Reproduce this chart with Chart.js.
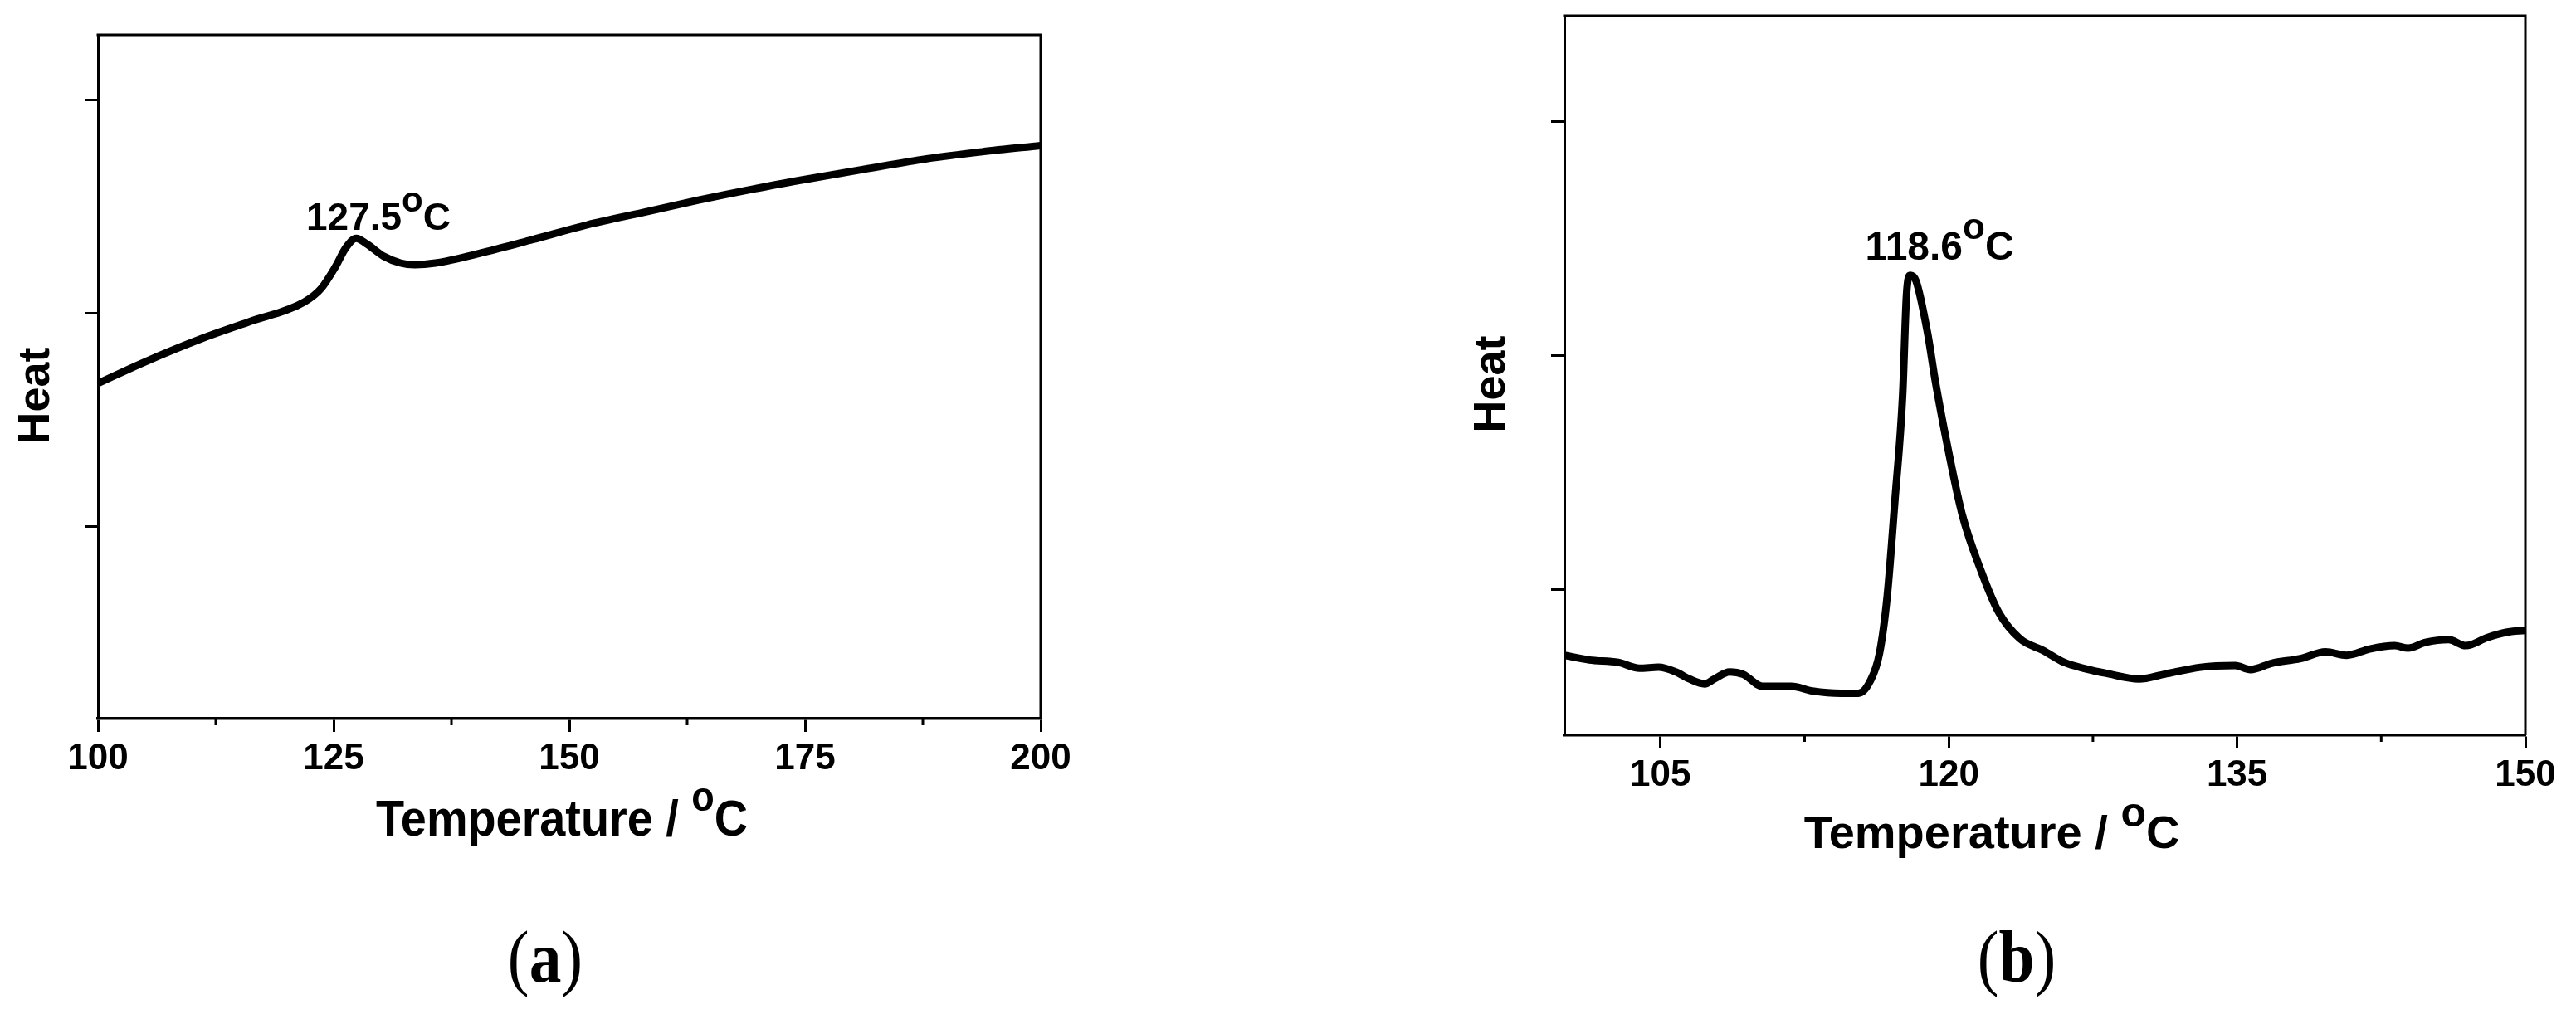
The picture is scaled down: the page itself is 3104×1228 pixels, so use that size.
<!DOCTYPE html>
<html>
<head>
<meta charset="utf-8">
<script src="https://cdn.jsdelivr.net/npm/chart.js@4.4.1/dist/chart.umd.min.js"></script>
<style>
    html, body { margin: 0; padding: 0; background: #fff; }
    body { width: 3104px; height: 1228px; position: relative; overflow: hidden; }
    canvas { position: absolute; top: 0; }
    #chartA { left: 0; }
    #chartB { left: 1750px; }
    .caption {
        position: absolute; top: 1110px;
        font-family: "Liberation Serif", "DejaVu Serif", serif;
        font-size: 88px; line-height: 88px; color: #000;
        transform: translateX(-50%) scaleX(0.88);
        white-space: nowrap;
    }
</style>
</head>
<body>
<canvas id="chartA" width="1300" height="1060"></canvas>
<canvas id="chartB" width="1354" height="1060"></canvas>
<div class="caption" style="left:657px">(<b>a</b>)</div>
<div class="caption" style="left:2430px">(<b>b</b>)</div>

<script>
// Panel (a) data
const tempA = [100, 105, 110.9, 116, 121.9, 123.7, 125.2, 126.3, 127.4, 128.5, 130.3, 132.1, 133.6,
    135.8, 140.9, 146.1, 151.9, 157.8, 163.7, 169.6, 175.4, 181.3, 187.9, 193.8, 200];
const heatA = [16.73, 17.74, 18.81, 19.61, 20.55, 21.19, 22.2, 23.09, 23.53, 23.27, 22.69, 22.37, 22.29,
    22.37, 22.87, 23.47, 24.16, 24.74, 25.32, 25.85, 26.32, 26.77, 27.26, 27.59, 27.88];
const xMajorA = [100, 125, 150, 175, 200];
const xMinorA = [112.5, 137.5, 162.5, 187.5];

// Panel (b) data
const tempB = [100, 101.3, 102.8, 103.9, 104.9, 105.8, 106.5, 107.3, 107.8, 108.6, 109.3, 110.3, 111.8,
    112.9, 114.4, 115.3, 115.9, 116.4, 116.8, 117.2, 117.6, 117.8, 118.0, 118.3, 118.9, 119.3, 120.0,
    120.7, 121.7, 122.6, 123.7, 124.9, 126.0, 127.1, 128.2, 129.9, 131.2, 133.1, 134.9, 135.7, 136.8,
    138.3, 139.6, 140.7, 141.9, 143.2, 143.9, 144.8, 146.0, 146.9, 148.0, 149.0, 150];
const heatB = [7.21, 7.01, 6.91, 6.66, 6.70, 6.50, 6.20, 5.99, 6.20, 6.50, 6.40, 5.89, 5.89,
    5.69, 5.59, 5.59, 6.09, 7.31, 9.76, 13.83, 18.30, 22.57, 23.43, 23.18, 20.95, 18.91, 15.86,
    13.21, 10.77, 9.04, 7.92, 7.42, 6.91, 6.64, 6.44, 6.20, 6.40, 6.70, 6.77, 6.60, 6.87,
    7.07, 7.36, 7.21, 7.48, 7.62, 7.52, 7.76, 7.88, 7.62, 7.96, 8.19, 8.27];
const xMajorB = [105, 120, 135, 150];
const xMinorB = [112.5, 127.5, 142.5];

// y axis ticks (no labels)
const yTicks = [10, 20, 30];

// Peak labels
const peakA = { x: 129.75, y: 23.93, text: '127.5' };
const peakB = { x: 119.52, y: 24.09, text: '118.6' };

Chart.defaults.font.family = '"Liberation Sans", Arial, sans-serif';
Chart.defaults.color = '#000';

// text with a raised small "o"
function drawRich(ctx, parts, cx, baseY, sx) {
    ctx.save();
    ctx.translate(cx, baseY);
    ctx.scale(sx, 1);
    ctx.fillStyle = '#000';
    ctx.textAlign = 'left';
    ctx.textBaseline = 'alphabetic';
    let total = 0;
    parts.forEach(p => {
        ctx.font = 'bold ' + p[1] + 'px "Liberation Sans", Arial, sans-serif';
        total += ctx.measureText(p[0]).width;
    });
    let x = -total / 2;
    parts.forEach(p => {
        ctx.font = 'bold ' + p[1] + 'px "Liberation Sans", Arial, sans-serif';
        ctx.fillText(p[0], x, -(p[2] || 0));
        x += ctx.measureText(p[0]).width;
    });
    ctx.restore();
}

function decorPlugin(o) {
    return {
        id: 'decor',
        afterDraw(chart) {
            const ctx = chart.ctx;
            const a = chart.chartArea;
            const xs = chart.scales.x;
            const ys = chart.scales.y;
            ctx.save();
            ctx.strokeStyle = '#000';
            // top and right frame
            ctx.lineWidth = 3;
            ctx.beginPath();
            ctx.moveTo(a.left - 1.5, a.top);
            ctx.lineTo(a.right, a.top);
            ctx.lineTo(a.right, a.bottom);
            ctx.stroke();
            // minor ticks
            o.minor.forEach(v => {
                const px = xs.getPixelForValue(v);
                ctx.beginPath();
                ctx.moveTo(px, a.bottom);
                ctx.lineTo(px, a.bottom + 8);
                ctx.stroke();
            });
            ctx.restore();

            // peak label
            drawRich(ctx, [[o.peak.text, o.peakSize], ['o', o.peakSize - 4, o.peakRise], ['C', o.peakSize]],
                xs.getPixelForValue(o.peak.x), ys.getPixelForValue(o.peak.y), 1);
            // x title
            drawRich(ctx, [['Temperature / ', o.titleSize], ['o', 50, o.titleRise], ['C', o.titleSize]],
                o.titleX, o.titleY, o.titleScale);
            // y title
            ctx.save();
            ctx.translate(o.heatX, o.heatY);
            ctx.rotate(-Math.PI / 2);
            ctx.fillStyle = '#000';
            ctx.font = 'bold 54px "Liberation Sans", Arial, sans-serif';
            ctx.textAlign = 'center';
            ctx.textBaseline = 'middle';
            ctx.fillText('Heat', 0, 0);
            ctx.restore();
        }
    };
}

function makeChart(id, temps, heats, o) {
    const ctx = document.getElementById(id).getContext('2d');
    return new Chart(ctx, {
        type: 'line',
        data: {
            datasets: [{
                data: temps.map((t, i) => ({ x: t, y: heats[i] })),
                borderColor: '#000',
                borderWidth: 9,
                pointRadius: 0,
                cubicInterpolationMode: 'monotone',
                fill: false
            }]
        },
        options: {
            responsive: false,
            animation: false,
            devicePixelRatio: 1,
            layout: { padding: { left: 0, top: o.padTop, right: o.padRight, bottom: 0 } },
            plugins: { legend: { display: false }, tooltip: { enabled: false } },
            scales: {
                x: {
                    type: 'linear',
                    min: o.xMin,
                    max: o.xMax,
                    afterBuildTicks: s => { s.ticks = o.major.map(v => ({ value: v })); },
                    afterFit: s => { s.height = o.xHeight; },
                    ticks: {
                        font: { size: 44, weight: 'bold' },
                        color: '#000',
                        padding: 6,
                        maxRotation: 0,
                        autoSkip: false
                    },
                    grid: { drawOnChartArea: false, tickLength: 16, tickWidth: 3, tickColor: '#000' },
                    border: { color: '#000', width: 3.5 }
                },
                y: {
                    type: 'linear',
                    min: o.yMin,
                    max: o.yMax,
                    afterBuildTicks: s => { s.ticks = yTicks.map(v => ({ value: v })); },
                    afterFit: s => { s.width = o.yWidth; },
                    ticks: { display: false },
                    grid: { drawOnChartArea: false, tickLength: 16, tickWidth: 3, tickColor: '#000' },
                    border: { color: '#000', width: 3 }
                }
            }
        },
        plugins: [decorPlugin(o)]
    });
}

makeChart('chartA', tempA, heatA, {
    xMin: 100, xMax: 200, yMin: 1.01, yMax: 33.07,
    major: xMajorA, minor: xMinorA,
    padTop: 42, padRight: 46, xHeight: 194, yWidth: 118,
    peak: peakA, peakSize: 46, peakRise: 22,
    titleX: 677, titleY: 1007, titleSize: 62, titleRise: 30, titleScale: 0.9,
    heatX: 44, heatY: 477
});

makeChart('chartB', tempB, heatB, {
    xMin: 100, xMax: 150, yMin: 3.8, yMax: 34.5,
    major: xMajorB, minor: xMinorB,
    padTop: 19, padRight: 61, xHeight: 174, yWidth: 135,
    peak: peakB, peakSize: 48, peakRise: 25,
    titleX: 650, titleY: 1022, titleSize: 56, titleRise: 26, titleScale: 1,
    heatX: 48, heatY: 463
});
</script>
</body>
</html>
